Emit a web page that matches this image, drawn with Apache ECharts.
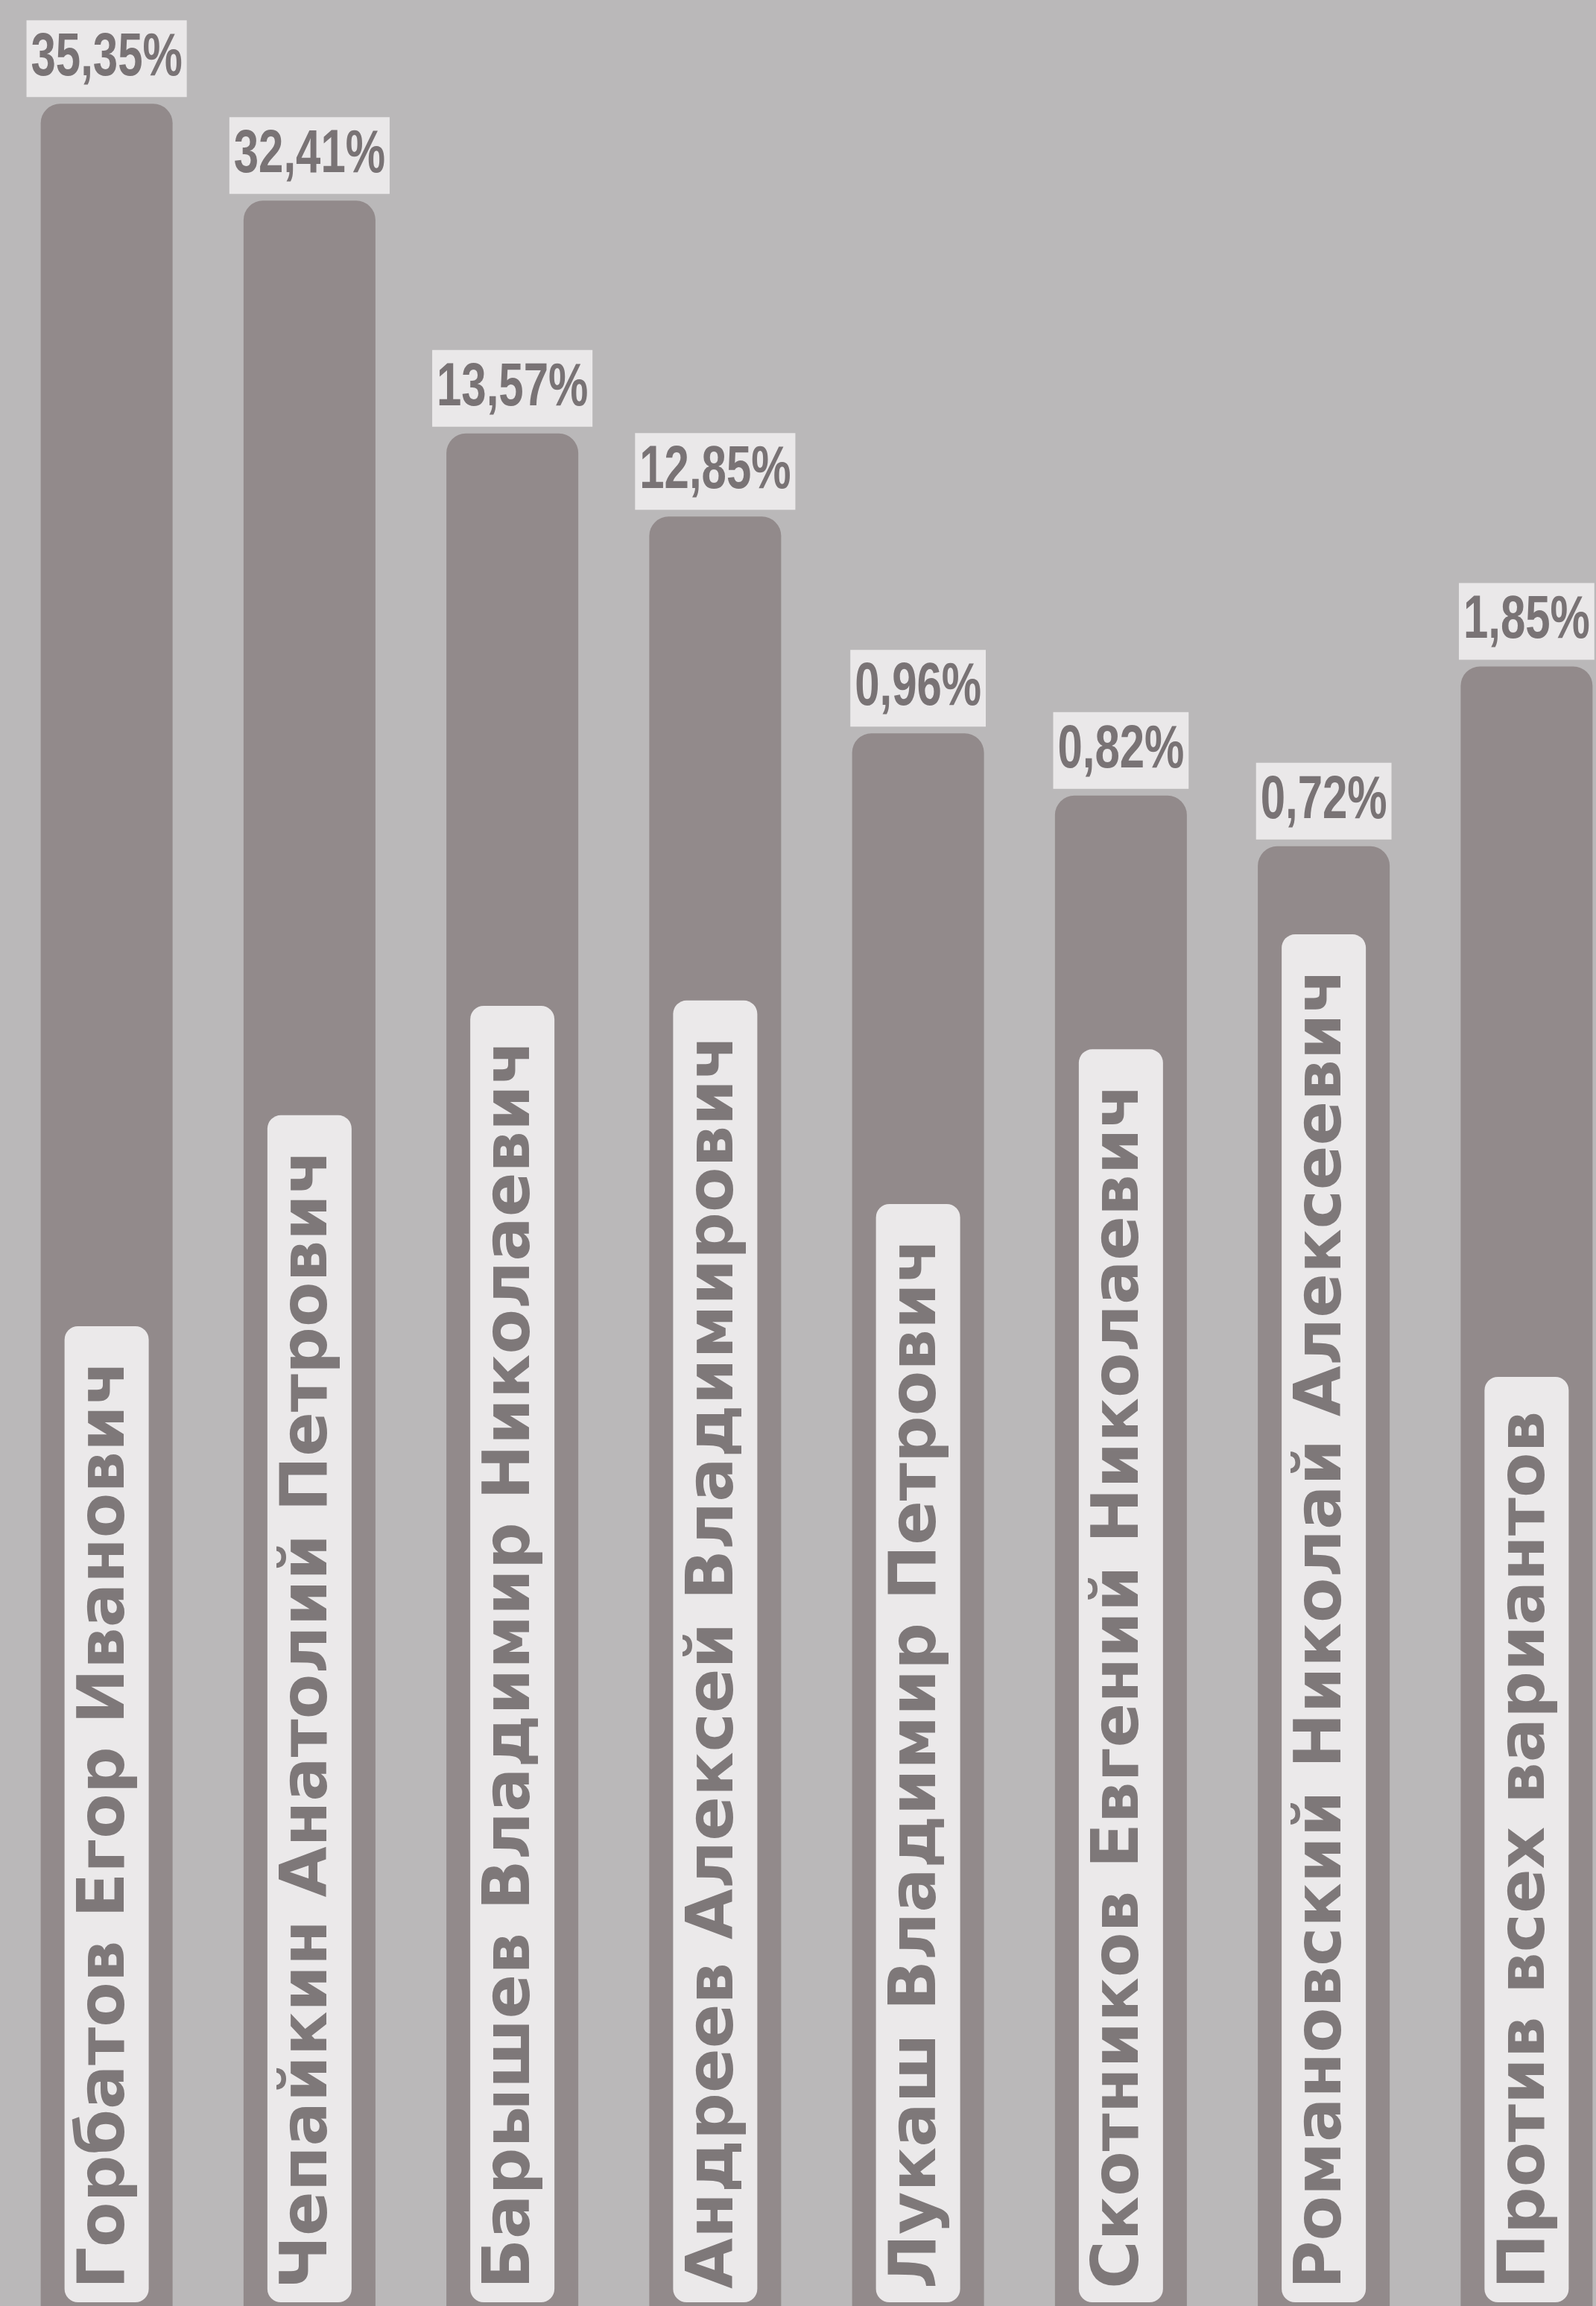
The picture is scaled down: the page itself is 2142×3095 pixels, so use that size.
<!DOCTYPE html>
<html>
<head>
<meta charset="utf-8">
<script src="https://cdn.jsdelivr.net/npm/echarts@6/dist/echarts.min.js"></script>
<style>
  html, body { margin: 0; padding: 0; background: #bab8b9; }
  #chart { width: 2142px; height: 3095px; }
</style>
</head>
<body>
<div id="chart"></div>
<script>
// Candidates (category order, left to right)
const categories = [
  'Горбатов Егор Иванович',
  'Чепайкин Анатолий Петрович',
  'Барышев Владимир Николаевич',
  'Андреев Алексей Владимирович',
  'Лукаш Владимир Петрович',
  'Скотников Евгений Николаевич',
  'Романовский Николай Алексеевич',
  'Против всех вариантов'
];
// Shares printed above the bars (%)
const shares = [35.35, 32.41, 13.57, 12.85, 0.96, 0.82, 0.72, 1.85];
// Bar heights as drawn in the picture (unlabeled 0–100 scale, not proportional to shares)
const barLevels = [95.5, 91.3, 81.2, 77.6, 68.2, 65.5, 63.3, 71.1];

const fmtShare = v => v.toFixed(2).replace('.', ',') + '%';

const chart = echarts.init(document.getElementById('chart'), null, { renderer: 'canvas' });
chart.setOption({
  backgroundColor: '#bab8b9',
  animation: false,
  grid: {
    left: 7, width: 2178, top: 0, bottom: 0,
    containLabel: false,
    outerBoundsMode: 'none'
  },
  xAxis: {
    type: 'category',
    data: categories,
    show: false
  },
  yAxis: {
    type: 'value',
    min: 0,
    max: 100,
    show: false
  },
  series: [
    {
      type: 'bar',
      silent: true,
      data: barLevels,
      barWidth: 177,
      itemStyle: { color: '#928a8b', borderRadius: [26, 26, 0, 0] },
      label: {
        show: true,
        position: 'insideBottom',
        rotate: 90,
        align: 'left',
        verticalAlign: 'middle',
        distance: 5,
        formatter: p => categories[p.dataIndex],
        fontFamily: '"DejaVu Sans", sans-serif',
        fontWeight: 'bold',
        fontSize: 88,
        lineHeight: 113,
        color: '#7e7879',
        backgroundColor: '#ebe9ea',
        borderRadius: 18,
        padding: [0, 46, 0, 18]
      }
    },
    {
      type: 'custom',
      silent: true,
      clip: false,
      z: 5,
      data: barLevels.map((v, i) => [i, v, shares[i]]),
      renderItem: (params, api) => {
        const pt = api.coord([api.value(0), api.value(1)]);
        return {
          type: 'text',
          x: pt[0],
          y: pt[1] - 9,
          scaleX: 0.74,
          style: {
            text: fmtShare(api.value(2)),
            font: 'bold 81px "Liberation Sans", Arial, sans-serif',
            fill: '#797375',
            align: 'center',
            verticalAlign: 'bottom',
            lineHeight: 103,
            backgroundColor: '#eae8e9',
            padding: [0, 8]
          }
        };
      }
    }
  ]
});
</script>
</body>
</html>
